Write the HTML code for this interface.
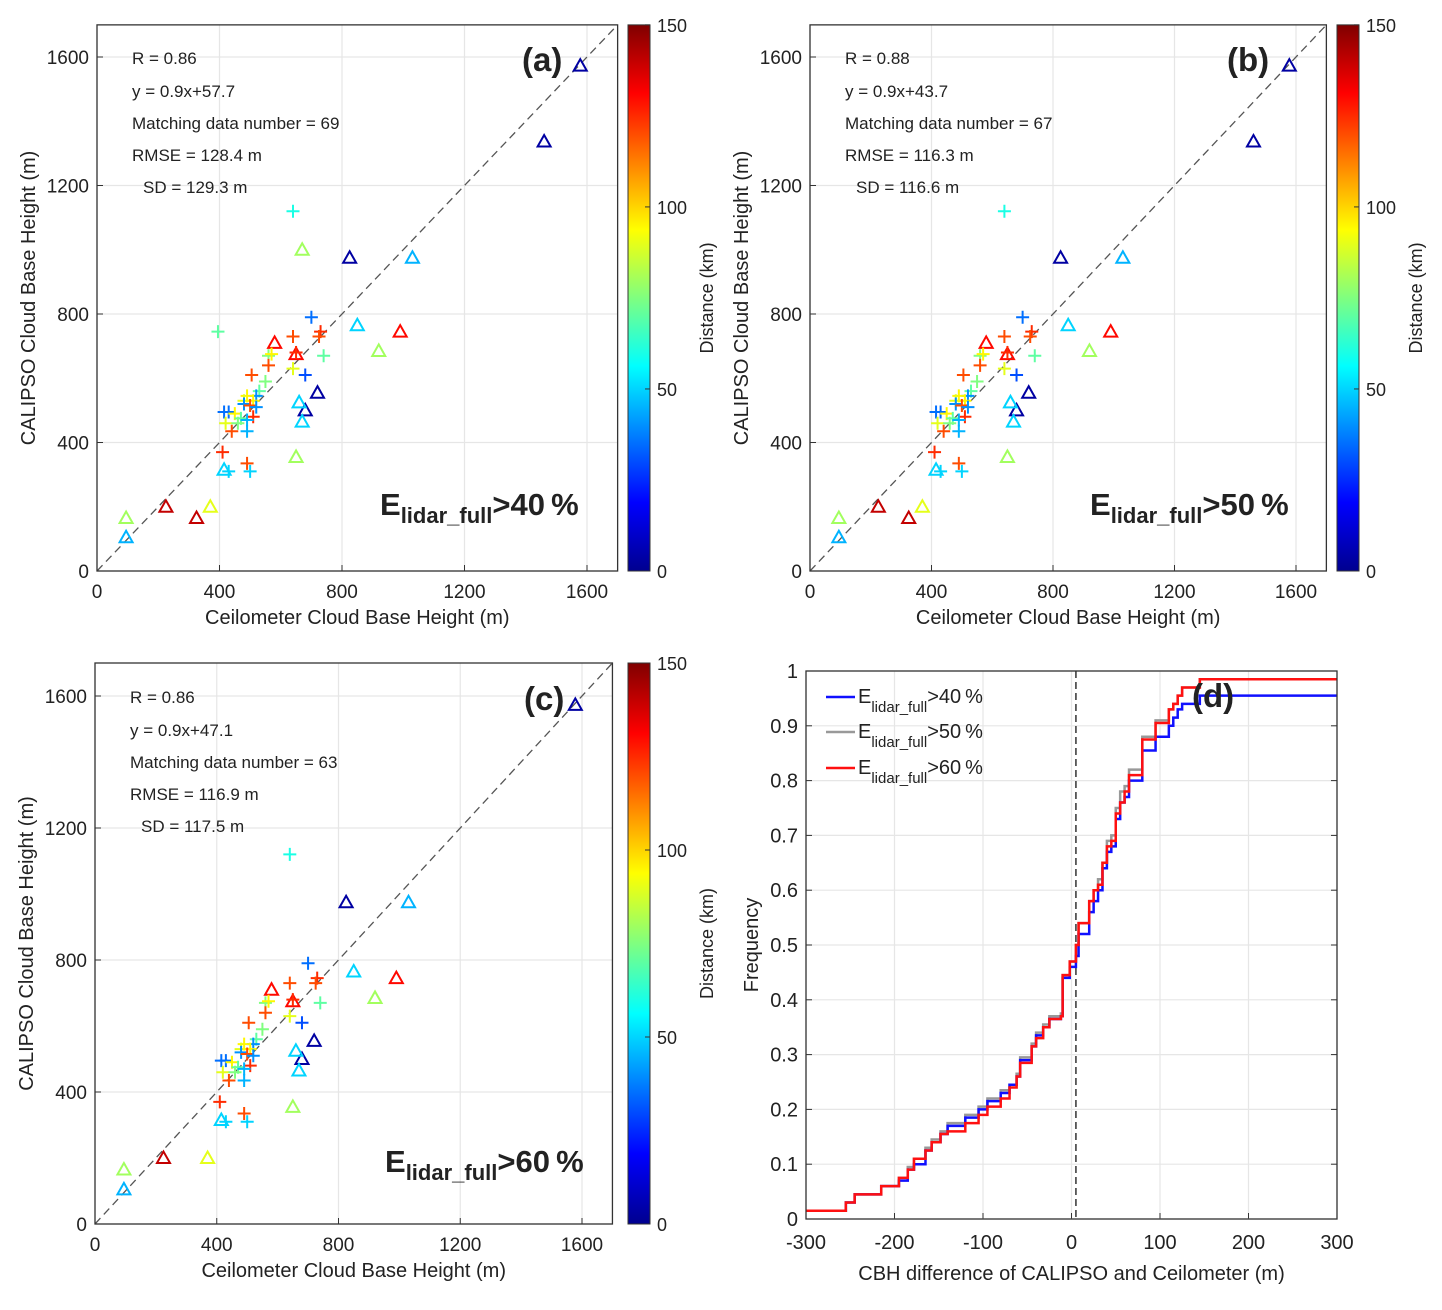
<!DOCTYPE html>
<html><head><meta charset="utf-8"><style>
body{margin:0;background:#fff}
svg text{font-family:"Liberation Sans",Arial,sans-serif;fill:#222}
</style></head><body>
<svg id="s" width="1442" height="1305" xmlns="http://www.w3.org/2000/svg">
<defs>
<linearGradient id="jet" x1="0" y1="1" x2="0" y2="0">
<stop offset="0" stop-color="#00008f"/><stop offset="0.125" stop-color="#0000ff"/>
<stop offset="0.375" stop-color="#00ffff"/><stop offset="0.625" stop-color="#ffff00"/>
<stop offset="0.875" stop-color="#ff0000"/><stop offset="1" stop-color="#800000"/>
</linearGradient>
</defs>
</svg>
<script>
// scatter data (ceilometer m, calipso m, distance km, marker 0=triangle 1=plus, inB, inC)
const ceil=[1578,1460,825,1030,670,850,990,920,580,650,720,680,660,670,650,415,95,95,225,325,370,
640,395,700,640,730,725,560,570,650,740,640,560,680,505,550,530,520,490,480,510,480,500,430,415,450,470,520,510,420,460,490,440,490,410,490,430,500];
const calipso=[1573,1337,975,975,1000,765,745,685,710,675,555,500,525,465,355,315,165,105,200,165,200,
1120,745,790,730,745,730,670,675,680,670,630,640,610,610,590,560,545,545,530,530,520,515,495,495,490,475,510,480,460,460,470,435,435,370,335,310,310];
const dist=[5,5,5,45,80,50,130,80,130,130,5,5,50,50,80,50,80,45,140,140,90,
60,70,35,120,125,120,75,95,125,70,90,120,30,120,75,70,40,95,90,95,40,120,35,35,95,70,40,125,90,75,45,120,45,125,120,50,50];
const mark=[0,0,0,0,0,0,0,0,0,0,0,0,0,0,0,0,0,0,0,0,0,
1,1,1,1,1,1,1,1,1,1,1,1,1,1,1,1,1,1,1,1,1,1,1,1,1,1,1,1,1,1,1,1,1,1,1,1,1];
const inB=[1,1,1,1,0,1,1,1,1,1,1,1,1,1,1,1,1,1,1,1,1, 1,0,1,1,1,1,1,1,1,1,1,1,1,1,1,1,1,1,1,1,1,1,1,1,1,1,1,1,1,1,1,1,1,1,1,1,1];
const inC=[1,0,1,1,0,1,1,1,1,1,1,1,1,1,1,1,1,1,1,0,1, 1,0,1,1,1,1,1,1,1,1,1,1,1,1,1,1,1,1,1,1,1,1,1,1,1,1,1,1,1,1,1,1,1,1,1,1,1];
const scatTicks=[0,400,800,1200,1600];
const cbTicks=[0,50,100,150];
// CDF step data
const cdfX=[-300,-255,-245,-215,-195,-185,-178,-165,-158,-148,-140,-120,-105,-95,-80,-70,-62,-58,-45,-40,-32,-25,-12,-10,-2,5,8,20,25,30,35,40,45,50,55,60,65,80,95,110,115,120,125,145,300];
const cdfRed=[0.015,0.03,0.045,0.06,0.075,0.09,0.11,0.125,0.14,0.155,0.16,0.175,0.19,0.205,0.22,0.24,0.26,0.285,0.315,0.33,0.35,0.365,0.37,0.445,0.47,0.5,0.54,0.58,0.6,0.61,0.65,0.68,0.69,0.74,0.76,0.78,0.81,0.875,0.905,0.93,0.94,0.955,0.97,0.985,0.985];
const cdfGray=[0.015,0.03,0.045,0.06,0.075,0.095,0.11,0.13,0.145,0.16,0.175,0.19,0.205,0.22,0.235,0.245,0.265,0.295,0.32,0.34,0.355,0.37,0.375,0.445,0.47,0.5,0.54,0.58,0.6,0.62,0.65,0.69,0.7,0.75,0.78,0.79,0.82,0.88,0.91,0.93,0.94,0.955,0.97,0.985,0.985];
const cdfBlue=[0.015,0.03,0.045,0.06,0.07,0.09,0.1,0.125,0.14,0.155,0.17,0.185,0.2,0.215,0.23,0.245,0.26,0.29,0.315,0.335,0.35,0.365,0.37,0.44,0.46,0.48,0.52,0.56,0.58,0.6,0.64,0.67,0.68,0.73,0.76,0.77,0.8,0.855,0.88,0.9,0.915,0.93,0.94,0.955,0.955];
const dTicksX=[-300,-200,-100,0,100,200,300];
const dTicksY=[0,0.1,0.2,0.3,0.4,0.5,0.6,0.7,0.8,0.9,1];

const S=document.getElementById('s'),NS='http://www.w3.org/2000/svg';
function el(t,a,p){const e=document.createElementNS(NS,t);for(const k in a)e.setAttribute(k,a[k]);(p||S).appendChild(e);return e;}
function txt(x,y,s,a,p){const e=el('text',Object.assign({x:x,y:y},a||{}),p);e.textContent=s;return e;}
function jet(v){const t=Math.max(0,Math.min(1,v/150));
 function c(x){return Math.max(0,Math.min(1,x));}
 const r=c(1.5-Math.abs(4*t-3)),g=c(1.5-Math.abs(4*t-2)),b=c(1.5-Math.abs(4*t-1));
 return 'rgb('+Math.round(r*255)+','+Math.round(g*255)+','+Math.round(b*255)+')';}

function scatter(P){
 const g=el('g',{});
 
 
 const X=v=>P.x0+(v/1600)*(P.x1600-P.x0), Y=v=>P.y0-(v/1600)*(P.y0-P.y1600);
 const xr=X(1700),yt=Y(1700);
 el('rect',{x:P.x0,y:yt,width:xr-P.x0,height:P.y0-yt,fill:'#fff'},g);
 scatTicks.forEach(t=>{
  el('line',{x1:X(t),x2:X(t),y1:yt,y2:P.y0,stroke:'#e6e6e6','stroke-width':1.2},g);
  el('line',{x1:P.x0,x2:xr,y1:Y(t),y2:Y(t),stroke:'#e6e6e6','stroke-width':1.2},g);
  el('line',{x1:X(t),x2:X(t),y1:P.y0,y2:P.y0-6,stroke:'#333'},g);
  el('line',{x1:P.x0,x2:P.x0+6,y1:Y(t),y2:Y(t),stroke:'#333'},g);
  const xl=txt(X(t),P.y0+27,String(t),{'font-size':19,'text-anchor':'middle'},g);
  
  
  const yl=txt(P.x0-8,Y(t)+7,String(t),{'font-size':19,'text-anchor':'end'},g);
  
  
 });
 el('line',{x1:P.x0,y1:P.y0,x2:xr,y2:yt,stroke:'#555','stroke-width':1.3,'stroke-dasharray':'8,5'},g);
 for(let i=0;i<ceil.length;i++){
  if(P.id==='b'&&!inB[i])continue; if(P.id==='c'&&!inC[i])continue;
  const x=X(ceil[i]),y=Y(calipso[i]),c=jet(dist[i]);let m;
  if(mark[i]===0) m=el('path',{d:`M${x-6.5},${y+5}L${x+6.5},${y+5}L${x},${y-6.5}Z`,fill:'none',stroke:c,'stroke-width':2},g);
  else m=el('path',{d:`M${x-6.5},${y}H${x+6.5}M${x},${y-6.5}V${y+6.5}`,fill:'none',stroke:c,'stroke-width':2},g);
  
  
 }
 el('rect',{x:P.x0,y:yt,width:xr-P.x0,height:P.y0-yt,fill:'none',stroke:'#333','stroke-width':1.3},g);
 const st=P.stats;
 [['R = '+st[0],P.x0+35,Y(1600)+7],['y = '+st[1],P.x0+35,Y(1600)+40],['Matching data number = '+st[2],P.x0+35,Y(1600)+72],['RMSE = '+st[3]+' m',P.x0+35,Y(1600)+104],['SD = '+st[4]+' m',P.x0+46,Y(1600)+136]].forEach(a=>{
  const t=txt(a[1],a[2],a[0],{'font-size':17},g);
  
  
 });
 const pl=txt(P.lab[0],P.lab[1],'('+P.id+')',{'font-size':33,'font-weight':'bold'},g);
 
 
 const e=el('text',{x:P.e[0],y:P.e[1],'font-size':31,'font-weight':'bold'},g);
 
 
 e.innerHTML='E<tspan font-size="22" dy="8">lidar_full</tspan><tspan dy="-8">&gt;'+P.th+'\u2009%</tspan>';
 const xt=txt((P.x0+xr)/2,P.y0+53,'Ceilometer Cloud Base Height (m)',{'font-size':20,'text-anchor':'middle'},g);
 
 
 const yx=P.x0-62,ym=(P.y0+yt)/2;
 const ytl=txt(yx,ym,'CALIPSO Cloud Base Height (m)',{'font-size':20,'text-anchor':'middle',transform:`rotate(-90 ${yx} ${ym})`},g);
 
 
 // colorbar
 const cb=el('rect',{x:P.cb,y:yt,width:22,height:P.y0-yt,fill:'url(#jet)',stroke:'#333'},g);
 
 
 cbTicks.forEach(t=>{const yy=P.y0-(t/150)*(P.y0-yt);
  el('line',{x1:P.cb+22,x2:P.cb+17,y1:yy,y2:yy,stroke:'#333'},g);
  const l=txt(P.cb+29,yy+7,String(t),{'font-size':18},g);
  
  });
 const cx=P.cb+85;
 const ct=txt(cx,ym,'Distance (km)',{'font-size':18,'text-anchor':'middle',transform:`rotate(-90 ${cx} ${ym})`},g);
 
 
}
scatter({id:'a',x0:97,x1600:587,y0:571,y1600:57,cb:628,stats:['0.86','0.9x+57.7',69,'128.4','129.3'],lab:[522,71],e:[380,515],th:40});
scatter({id:'b',x0:810,x1600:1296,y0:571,y1600:57,cb:1337,stats:['0.88','0.9x+43.7',67,'116.3','116.6'],lab:[1227,71],e:[1090,515],th:50});
scatter({id:'c',x0:95,x1600:582,y0:1224,y1600:696,cb:628,stats:['0.86','0.9x+47.1',63,'116.9','117.5'],lab:[524,710],e:[385,1172],th:60});

// panel d
(function(){
 const g=el('g',{});
 
 
 const x0=806,x1=1337,y0=1219,y1=671;
 const X=v=>x0+(v+300)/600*(x1-x0), Y=v=>y0-v*(y0-y1);
 dTicksX.forEach(t=>{el('line',{x1:X(t),x2:X(t),y1:y1,y2:y0,stroke:'#e6e6e6','stroke-width':1.2},g);
  el('line',{x1:X(t),x2:X(t),y1:y0,y2:y0-6,stroke:'#333'},g);
  const l=txt(X(t),y0+30,String(t),{'font-size':20,'text-anchor':'middle'},g);
  
  });
 dTicksY.forEach(t=>{el('line',{x1:x0,x2:x1,y1:Y(t),y2:Y(t),stroke:'#e6e6e6','stroke-width':1.2},g);
  el('line',{x1:x0,x2:x0+6,y1:Y(t),y2:Y(t),stroke:'#333'},g);
  el('line',{x1:x1,x2:x1-6,y1:Y(t),y2:Y(t),stroke:'#333'},g);
  const l=txt(x0-8,Y(t)+7,String(t),{'font-size':20,'text-anchor':'end'},g);
  
  });
 el('line',{x1:X(5),x2:X(5),y1:y1,y2:y0,stroke:'#333','stroke-width':1.5,'stroke-dasharray':'7,4'},g);
 function step(ys,col,name){let d='';
  for(let i=0;i<cdfX.length;i++){const x=X(cdfX[i]),y=Y(ys[i]);
   if(i===0)d+=`M${x},${y}`;else d+=`V${Y(ys[i-1])}H${x}V${y}`;}
  const p=el('path',{d:d,fill:'none',stroke:col,'stroke-width':2.5},g);
  
  }
 step(cdfGray,'#999','series-50');
 step(cdfBlue,'#1010ff','series-40');
 step(cdfRed,'#ff1010','series-60');
 el('rect',{x:x0,y:y1,width:x1-x0,height:y0-y1,fill:'none',stroke:'#333','stroke-width':1.3},g);
 [['#1010ff',40,697],['#999',50,732],['#ff1010',60,768]].forEach(a=>{
  el('line',{x1:826,x2:855,y1:a[2],y2:a[2],stroke:a[0],'stroke-width':2.5},g);
  const t=el('text',{x:858,y:a[2]+6,'font-size':20},g);
  
  
  t.innerHTML='E<tspan font-size="15" dy="9">lidar_full</tspan><tspan dy="-9">&gt;'+a[1]+'\u2009%</tspan>';});
 const pl=txt(1192,707,'(d)',{'font-size':33,'font-weight':'bold'},g);
 
 
 const xt=txt((x0+x1)/2,y0+61,'CBH difference of CALIPSO and Ceilometer (m)',{'font-size':20,'text-anchor':'middle'},g);
 
 
 const yx=758,ym=(y0+y1)/2;
 const yt=txt(yx,ym,'Frequency',{'font-size':20,'text-anchor':'middle',transform:`rotate(-90 ${yx} ${ym})`},g);
 
 
})();
</script>
</body></html>
